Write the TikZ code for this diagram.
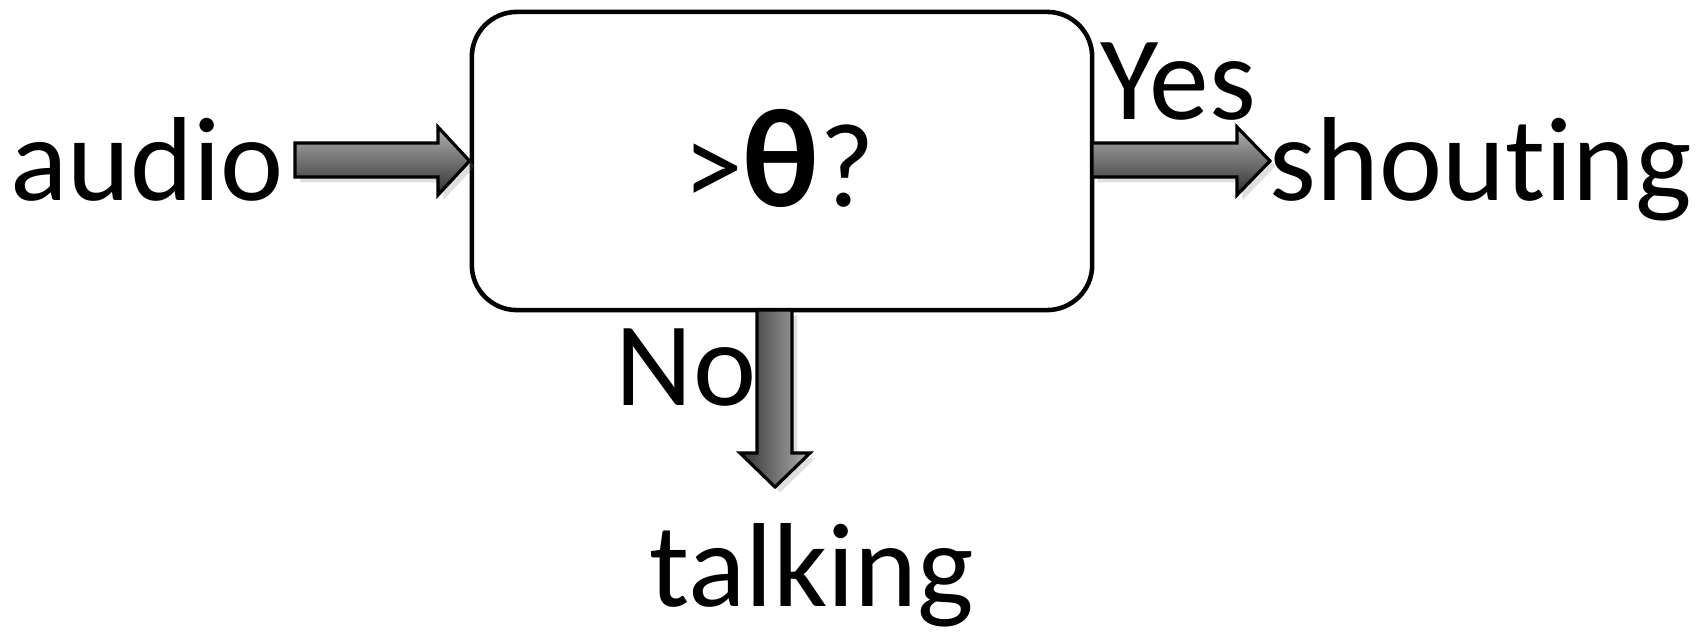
\documentclass[tikz,border=0pt]{standalone}
\usepackage{fontspec}
\setmainfont{Carlito}[Ligatures={NoCommon,NoRequired,NoContextual}]
\usetikzlibrary{shadows}

\definecolor{arrowlight}{RGB}{178,178,178}
\definecolor{arrowdark}{RGB}{48,48,48}

\tikzset{
  word/.style={inner sep=0pt, anchor=base, font=\fontsize{34}{40}\selectfont},
  blockarrow/.style={draw=black, line width=0.9pt, line join=miter,
    drop shadow={opacity=0.25, shadow xshift=1.5pt, shadow yshift=-1.5pt}},
  harrow/.style={blockarrow, top color=arrowlight, bottom color=arrowdark},
  varrow/.style={blockarrow, left color=arrowdark, right color=arrowlight},
}

\begin{document}
\begin{tikzpicture}[x=0.01cm, y=0.01cm]
\useasboundingbox (0,0) rectangle (1703,633);

% threshold box
\node[draw, line width=1.3pt, rounded corners=0.45cm, minimum width=6.2cm,
      minimum height=2.98cm, inner sep=0pt] (box) at (782,472) {};
\node[word] (test) at (779,426) {>{\fontsize{40}{48}\selectfont\bfseries θ}?};

% input and outputs
\node[word] (audio) at (147,432) {audio};
\node[word] (shouting) at (1481,432) {shouting};
\node[word] (talking) at (812,27) {talking};
\node[word] (yes) at (1178,513) {Yes};
\node[word] (no) at (686,228) {No};

\coordinate (yestip) at (1270,472);
\coordinate (notip) at (775,146);

% fat arrows
\path[harrow] (295,456) -- (438,456) -- (438,438) -- (box.west)
  -- (438,506) -- (438,490) -- (295,490) -- cycle;
\path[harrow] (1092,456) -- (1237,456) -- (1237,438) -- (yestip)
  -- (1237,506) -- (1237,490) -- (1092,490) -- cycle;
\path[varrow] (757,323) -- (757,180) -- (740,180) -- (notip)
  -- (810,180) -- (792,180) -- (792,323) -- cycle;
\end{tikzpicture}
\end{document}
